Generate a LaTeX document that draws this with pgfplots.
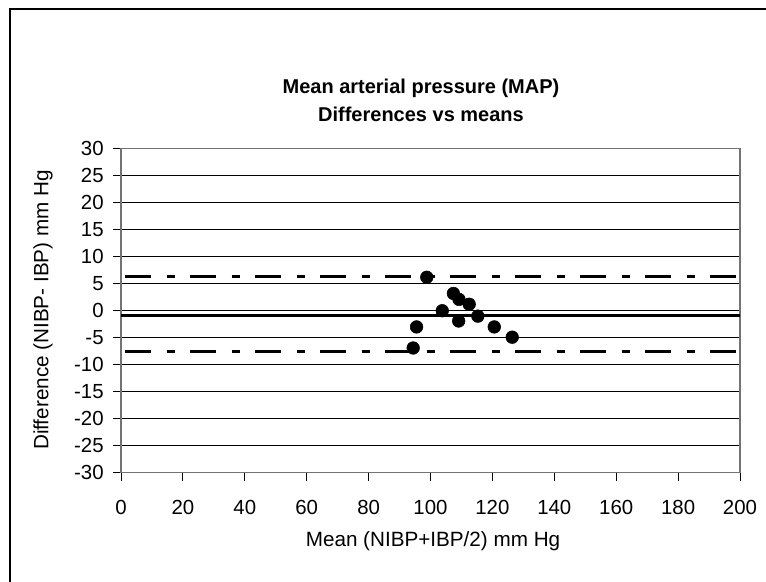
\documentclass[border=0pt]{standalone}
\usepackage{fontspec}
\setmainfont{Liberation Sans}
\usepackage{pgfplots}
\pgfplotsset{compat=1.18}
\begin{document}
\begin{tikzpicture}
\useasboundingbox (0,0) rectangle (574.5pt,435.75pt);
\draw[black, line width=0.9pt] (7.5pt,-10pt) -- (7.5pt,429pt) -- (600pt,429pt);
\begin{axis}[
  at={(90.75pt,81.2pt)}, anchor=south west,
  scale only axis, width=464.25pt, height=243pt,
  xmin=0, xmax=200, ymin=-30, ymax=30,
  xtick={0,20,...,200}, ytick={-30,-25,...,30},
  ymajorgrids, major grid style={black, line width=0.75pt},
  axis line style={draw=black!55, line width=1.1pt},
  tick style={black, line width=0.75pt},
  tick align=outside, major tick length=6pt,
  xtick pos=bottom, ytick pos=left,
  /pgf/number format/assume math mode=true,
  tick label style={font=\fontsize{15.3}{17}\selectfont},
  xticklabel style={yshift=-11pt},
  yticklabel style={xshift=-3.5pt},
  clip=false,
]
\addplot[black, line width=2.5pt, line cap=butt, forget plot] coordinates {(0,-0.85) (200,-0.85)};
\addplot[black, line width=2.5pt, line cap=butt, dash pattern=on 19.5pt off 11.75pt on 6.25pt off 11.25pt, dash phase=45.75pt, forget plot] coordinates {(0,6.3) (200,6.3)};
\addplot[black, line width=2.5pt, line cap=butt, dash pattern=on 19.5pt off 11.75pt on 6.25pt off 11.25pt, dash phase=45.75pt, forget plot] coordinates {(0,-7.55) (200,-7.55)};
\addplot[only marks, mark=*, mark size=4.75pt, black, mark options={fill=black}] coordinates {
(98.8,6.2) (107.4,3.2) (109.2,2.1) (112.5,1.2) (103.8,0.0) (115.3,-1.0)
(109.1,-1.9) (95.5,-3.0) (120.6,-3.0) (126.4,-4.9) (94.4,-6.9)
};
\end{axis}
\node[font=\fontsize{15}{17}\selectfont\bfseries] at (315.75pt,369.75pt) {Mean arterial pressure (MAP)};
\node[font=\fontsize{15}{17}\selectfont\bfseries] at (315.75pt,350.25pt) {Differences vs means};
\node[font=\fontsize{15.5}{17}\selectfont, rotate=90] at (32.25pt,203.25pt) {Difference (NIBP- IBP) mm Hg};
\node[font=\fontsize{15.5}{17}\selectfont] at (324.75pt,30pt) {Mean (NIBP+IBP/2) mm Hg};
\end{tikzpicture}
\end{document}
